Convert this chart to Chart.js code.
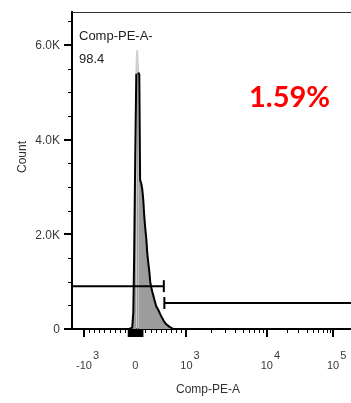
<!DOCTYPE html>
<html>
<head>
<meta charset="utf-8">
<script src="https://cdn.jsdelivr.net/npm/chart.js@4.4.1/dist/chart.umd.min.js"></script>
<style>
  html, body { margin: 0; padding: 0; background: #fff; }
  canvas { display: block; }
</style>
</head>
<body>
<canvas id="histo" width="351" height="403"></canvas>
<script>
// histogram bins (display channel 0-1024) and event counts
var binChannel = [210, 221, 225, 228, 232, 236, 239, 243, 247, 250, 254, 258, 262, 265, 269, 273,
  276, 280, 284, 287, 291, 295, 302, 309, 317, 324, 332, 339, 346, 357, 372, 390];
var binCount = [0, 30, 350, 1500, 3600, 5400, 5890, 5420, 5380, 3150, 3080, 2950, 2700, 2400, 2120, 1890,
  1620, 1400, 1200, 1000, 880, 780, 630, 480, 400, 310, 220, 150, 100, 50, 0, 0];

// axis ticks
var xTickChannels = [44, 232, 420, 715, 958];
var xTickBase = ["-10", "0", "10", "10", "10"];
var xTickExp = ["3", "", "3", "4", "5"];
var yTickValues = [0, 2000, 4000, 6000];
var yTickLabels = ["0", "2.0K", "4.0K", "6.0K"];

// gates
var leftGate = [0, 337];
var leftGateLevel = 905;
var rightGate = [339, 1024];
var rightGateLevel = 550;

var popName = "Comp-PE-A-";
var popFreq = "98.4";
var gateFreq = "1.59%";

// real value -> display channel, only used for the minor tick marks
function toChannel(v) {
  var c = xTickChannels;
  if (Math.abs(v) <= 1000) return c[1] + v * (c[2] - c[1]) / 1000;
  if (v <= 10000) return c[2] + (c[3] - c[2]) * Math.log10(v / 1000);
  return c[3] + (c[4] - c[3]) * Math.log10(v / 10000);
}

var minorX = [];
for (var k = 100; k <= 900; k += 100) { minorX.push(-k, k); }
for (var k = 10; k <= 140; k += 10) { minorX.push(-k, k); }
for (var m = 2; m <= 9; m++) { minorX.push(m * 1000, m * 10000); }

var font = "'Liberation Sans', Arial, sans-serif";

var decor = {
  id: "decor",
  afterDatasetsDraw: function (chart) {
    var ctx = chart.ctx, a = chart.chartArea, x = chart.scales.x, y = chart.scales.y;
    ctx.save();
    // top frame
    ctx.strokeStyle = "#333";
    ctx.lineWidth = 1;
    ctx.beginPath();
    ctx.moveTo(a.left, a.top + 0.5);
    ctx.lineTo(a.right, a.top + 0.5);
    ctx.stroke();

    ctx.strokeStyle = "#000";
    // y tick marks
    for (var v = 0; v <= y.max; v += 500) {
      var major = v % 2000 === 0;
      var py = Math.round(y.getPixelForValue(v)) + (major ? 0 : 0.5);
      ctx.lineWidth = major ? 2 : 1;
      ctx.beginPath();
      ctx.moveTo(a.left, py);
      ctx.lineTo(a.left - (major ? 8 : 4), py);
      ctx.stroke();
    }
    // x tick marks
    minorX.forEach(function (rv) {
      var px = Math.round(x.getPixelForValue(toChannel(rv))) + 0.5;
      if (px < a.left || px > a.right) return;
      var nearZero = Math.abs(rv) < 150;
      ctx.lineWidth = nearZero ? 1.5 : 1;
      ctx.beginPath();
      ctx.moveTo(px, a.bottom);
      ctx.lineTo(px, a.bottom + (nearZero ? 8 : 4));
      ctx.stroke();
    });
    xTickChannels.forEach(function (c) {
      var px = Math.round(x.getPixelForValue(c));
      ctx.lineWidth = 2;
      ctx.beginPath();
      ctx.moveTo(px, a.bottom);
      ctx.lineTo(px, a.bottom + 8);
      ctx.stroke();
    });

    // y tick labels
    ctx.fillStyle = "#3a3a3a";
    ctx.font = "12px " + font;
    ctx.textAlign = "right";
    ctx.textBaseline = "middle";
    yTickValues.forEach(function (v, i) {
      ctx.fillText(yTickLabels[i], a.left - 12, y.getPixelForValue(v) + 1);
    });
    // x tick labels with exponent
    ctx.font = "11px " + font;
    ctx.textBaseline = "alphabetic";
    xTickChannels.forEach(function (c, i) {
      var px = x.getPixelForValue(c);
      ctx.textAlign = "center";
      ctx.fillText(xTickBase[i], px, a.bottom + 40);
      if (xTickExp[i]) {
        var w = ctx.measureText(xTickBase[i]).width;
        ctx.textAlign = "left";
        ctx.fillText(xTickExp[i], px + w / 2 + 1, a.bottom + 30);
      }
    });

    // axis titles
    ctx.fillStyle = "#333";
    ctx.font = "12px " + font;
    ctx.textAlign = "center";
    ctx.fillText("Comp-PE-A", 208, a.bottom + 64);
    ctx.save();
    ctx.translate(26, 157);
    ctx.rotate(-Math.PI / 2);
    ctx.fillText("Count", 0, 0);
    ctx.restore();

    // population annotation
    ctx.fillStyle = "#222";
    ctx.font = "13px " + font;
    ctx.textAlign = "left";
    ctx.fillText(popName, a.left + 7, a.top + 28);
    ctx.fillText(popFreq, a.left + 7, a.top + 51);

    ctx.fillStyle = "#ff0000";
    ctx.font = "bold 29px Lato, 'Open Sans', sans-serif";
    ctx.fillText(gateFreq, 249, 107);
    ctx.restore();
  }
};

var peakIdx = binCount.indexOf(Math.max.apply(null, binCount));

var ctx = document.getElementById("histo").getContext("2d");
var myChart = new Chart(ctx, {
  type: "line",
  data: {
    datasets: [
      {
        label: "left gate",
        data: leftGate.map(function (c) { return { x: c, y: leftGateLevel }; }),
        borderColor: "#000",
        borderWidth: 2,
        pointStyle: "line",
        rotation: 90,
        pointRadius: [0, 6],
        pointBorderWidth: 2,
        pointBorderColor: "#000",
        fill: false,
      },
      {
        label: "right gate",
        data: rightGate.map(function (c) { return { x: c, y: rightGateLevel }; }),
        borderColor: "#000",
        borderWidth: 2,
        pointStyle: "line",
        rotation: 90,
        pointRadius: [6, 0],
        pointBorderWidth: 2,
        pointBorderColor: "#000",
        fill: false,
      },
      {
        label: "Comp-PE-A",
        data: binChannel.map(function (c, i) { return { x: c, y: binCount[i] }; }),
        backgroundColor: "#9c9c9c",
        borderColor: "#000",
        borderWidth: 2,
        pointRadius: 0,
        tension: 0,
        fill: "origin",
        segment: {
          borderColor: function (s) {
            return (s.p0DataIndex === peakIdx || s.p1DataIndex === peakIdx) ? "#cfcfcf" : "#000";
          },
        },
      },
    ],
  },
  options: {
    responsive: false,
    animation: false,
    events: [],
    layout: { autoPadding: false, padding: { left: 72, top: 12, right: 0, bottom: 74 } },
    plugins: { legend: { display: false }, tooltip: { enabled: false } },
    scales: {
      x: {
        type: "linear",
        min: 0,
        max: 1024,
        grid: { display: false, drawTicks: false },
        ticks: { display: false },
        border: { display: true, color: "#000", width: 2 },
        afterFit: function (s) { s.height = 0; },
      },
      y: {
        type: "linear",
        min: 0,
        max: 6700,
        grid: { display: false, drawTicks: false },
        ticks: { display: false },
        border: { display: true, color: "#000", width: 2 },
        afterFit: function (s) { s.width = 0; },
      },
    },
  },
  plugins: [decor],
});
</script>
</body>
</html>
